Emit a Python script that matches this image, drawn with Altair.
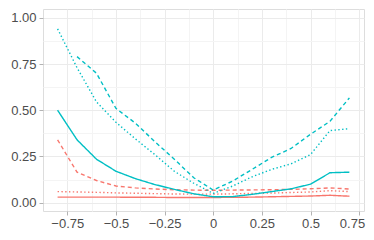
import altair as alt
import pandas as pd

x_vals = [-0.8, -0.7, -0.6, -0.5, -0.4, -0.3, -0.2, -0.1, 0.0, 0.1, 0.2, 0.3, 0.4, 0.5, 0.6, 0.7]

teal_solid = [0.50, 0.34, 0.235, 0.17, 0.13, 0.098, 0.072, 0.048, 0.032, 0.033, 0.045, 0.06, 0.075, 0.10, 0.162, 0.165]
teal_dashed = [None, 0.79, 0.70, 0.51, 0.43, 0.33, 0.235, 0.135, 0.068, 0.117, 0.18, 0.245, 0.293, 0.37, 0.44, 0.567]
teal_dotted = [0.94, 0.73, 0.545, 0.435, 0.345, 0.26, 0.17, 0.105, 0.05, 0.09, 0.14, 0.18, 0.21, 0.26, 0.39, 0.40]
red_solid = [0.03, 0.03, 0.03, 0.03, 0.029, 0.029, 0.028, 0.028, 0.028, 0.029, 0.03, 0.032, 0.034, 0.036, 0.04, 0.035]
red_dashed = [0.34, 0.165, 0.12, 0.09, 0.08, 0.074, 0.07, 0.068, 0.067, 0.068, 0.069, 0.07, 0.072, 0.075, 0.08, 0.074]
red_dotted = [0.06, 0.058, 0.056, 0.053, 0.051, 0.049, 0.047, 0.046, 0.046, 0.048, 0.05, 0.052, 0.055, 0.058, 0.065, 0.06]

series = [
    ("A", "solid", red_solid),
    ("A", "dashed", red_dashed),
    ("A", "dotted", red_dotted),
    ("B", "solid", teal_solid),
    ("B", "dashed", teal_dashed),
    ("B", "dotted", teal_dotted),
]

rows = []
for grp, lt, vals in series:
    for xv, yv in zip(x_vals, vals):
        if yv is not None:
            rows.append({"x": xv, "y": yv, "grp": grp, "lt": lt, "s": grp + lt})
df = pd.DataFrame(rows)

x_ticks = [-0.75, -0.625, -0.5, -0.375, -0.25, -0.125, 0, 0.125, 0.25, 0.375, 0.5, 0.625, 0.75]
y_ticks = [0, 0.125, 0.25, 0.375, 0.5, 0.625, 0.75, 0.875, 1.0]

minor_test = "abs(datum.value*4 - round(datum.value*4)) > 0.001"


def axis(fmt_expr, values, pad, **kw):
    return alt.Axis(
        title=None,
        values=values,
        labelExpr=f"({minor_test}) ? '' : {fmt_expr}",
        labelOverlap=False,
        labelFont="Liberation Sans",
        labelFontSize=13,
        labelColor="#4D4D4D",
        labelPadding=pad,
        tickSize=4,
        tickWidth=1,
        tickColor={"condition": {"test": minor_test, "value": "transparent"}, "value": "#B3B3B3"},
        gridColor={"condition": {"test": minor_test, "value": "#F4F4F4"}, "value": "#EBEBEB"},
        gridWidth=1,
        domain=False,
        **kw,
    )


xa = axis(
    "format(datum.value, '~g')", x_ticks, 2,
    labelAlign={"condition": {"test": "datum.value > 0.7", "value": "right"}, "value": "center"},
    labelOffset={"condition": {"test": "datum.value > 0.7", "value": 5.5}, "value": 0},
)
ya = axis("format(datum.value, '.2f')", y_ticks, 3)

chart = alt.Chart(df).mark_line(strokeWidth=1.4).encode(
    x=alt.X("x:Q", scale=alt.Scale(domain=[-0.875, 0.775], nice=False, zero=False), axis=xa),
    y=alt.Y("y:Q", scale=alt.Scale(domain=[-0.045, 1.0475], nice=False, zero=False), axis=ya),
    color=alt.Color("grp:N", scale=alt.Scale(domain=["A", "B"], range=["#F8766D", "#00BFC4"]), legend=None),
    strokeDash=alt.StrokeDash("lt:N", scale=alt.Scale(domain=["solid", "dashed", "dotted"],
                                                     range=[[1, 0], [4, 3], [1.4, 2.4]]), legend=None),
    detail="s:N",
).properties(
    width=321,
    height=202,
    autosize=alt.AutoSizeParams(type="none"),
    padding={"left": 35, "top": 1, "right": 2, "bottom": 21},
).configure_view(
    stroke="#ABABAB", strokeWidth=1
).configure(background="white")

chart.save("out.html", embed_options={"renderer": "svg", "actions": False})
